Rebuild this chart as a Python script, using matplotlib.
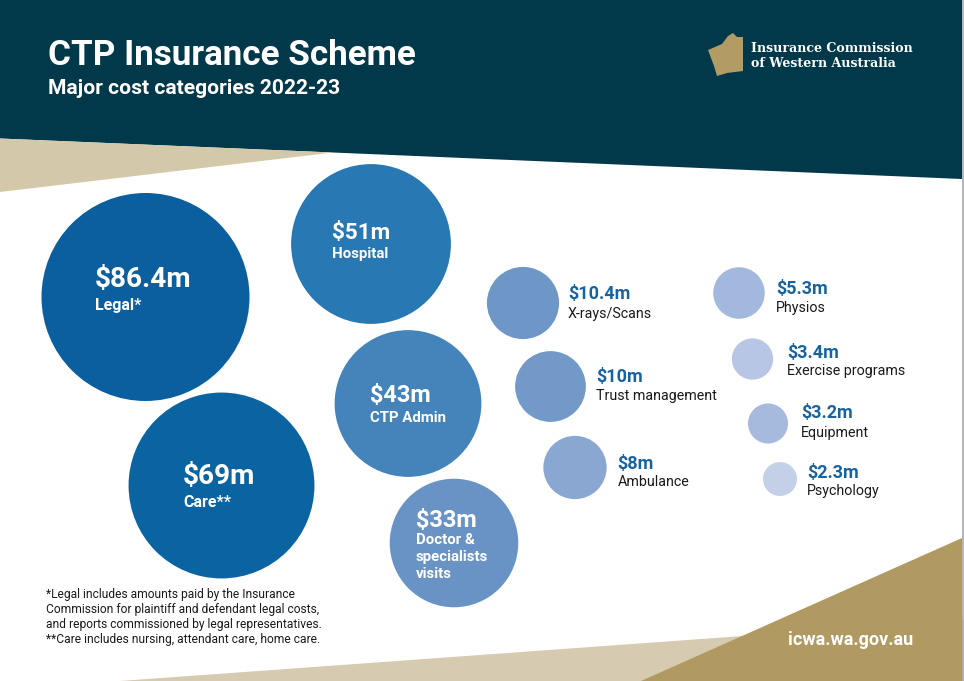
import matplotlib
matplotlib.use("Agg")
import matplotlib.pyplot as plt
from matplotlib.patches import Circle, Polygon
import numpy as np

# ---------------- data ----------------
categories = ["Legal*", "Care**", "Hospital", "CTP Admin", "Doctor &\nspecialists\nvisits",
              "X-rays/Scans", "Trust management", "Ambulance",
              "Physios", "Exercise programs", "Equipment", "Psychology"]
values = [86.4, 69, 51, 43, 33, 10.4, 10, 8, 5.3, 3.4, 3.2, 2.3]
value_labels = ["$86.4m", "$69m", "$51m", "$43m", "$33m", "$10.4m", "$10m", "$8m",
                "$5.3m", "$3.4m", "$3.2m", "$2.3m"]
title = "CTP Insurance Scheme"
subtitle = "Major cost categories 2022-23"
footnote = ["*Legal includes amounts paid by the Insurance",
            "Commission for plaintiff and defendant legal costs,",
            "and reports commissioned by legal representatives.",
            "**Care includes nursing, attendant care, home care."]
logo_lines = ["Insurance Commission", "of Western Australia"]
website = "icwa.wa.gov.au"

# ---------------- layout / style ----------------
W, H = 964, 681
R_MAX = 104.0  # radius of the largest bubble in px (area-proportional scaling)
centers = [(145.5, 297), (221.5, 485.5), (371, 244), (408, 403.5), (454, 543),
           (523, 303), (550.5, 386.5), (575, 467.5),
           (739, 293), (752.5, 359), (768, 423.5), (780, 479)]
colors = ["#0b5f9e", "#0b64a2", "#2878b3", "#4584bb", "#6993c5",
          "#6e97c7", "#7299c8", "#8aa7d2",
          "#a2b8dc", "#b6c6e4", "#a6badd", "#c3d0e8"]
# inside labels: (text left x, value baseline y, value px, label px, label offset, line step)
inside = {0: (95, 287, 28, 16, 23, 17),
          1: (183, 484, 28, 16, 23, 17),
          2: (332, 239, 22.5, 15, 19, 17),
          3: (370, 402, 23.5, 15, 20, 17),
          4: (416, 527, 23.5, 15, 17, 17)}
# outside labels: (value baseline y, label baseline y, gap)
outside = {5: (299, 318, 9), 6: (382, 400, 10), 7: (469, 486, 11),
           8: (294, 312, 11), 9: (358, 375, 14), 10: (418, 437, 13), 11: (478, 495, 10)}

DARK = "#02394a"
BEIGE = "#d4c8aa"
GOLD = "#b09a62"
BLUE_TXT = "#17639f"
FONT = "Roboto"

def px(v):
    return v * 0.72  # px -> pt at dpi 100

fig = plt.figure(figsize=(W / 100, H / 100), dpi=100)
ax = fig.add_axes([0, 0, 1, 1])
ax.set_xlim(0, W)
ax.set_ylim(H, 0)
ax.set_aspect("auto")
ax.axis("off")
fig.patch.set_facecolor("white")

# header
ax.add_patch(Polygon([(0, 0), (962, 0), (962, 179), (0, 138.5)], closed=True,
                     facecolor=DARK, edgecolor="none", zorder=1))
ax.add_patch(Polygon([(0, 138.5), (333, 152.5), (0, 192)], closed=True,
                     facecolor=BEIGE, edgecolor="none", zorder=1))
# bottom shapes
ax.add_patch(Polygon([(120, 681), (964, 620), (964, 681)], closed=True,
                     facecolor="#d6cbb0", edgecolor="none", zorder=1))
ax.add_patch(Polygon([(641, 681), (962, 538), (962, 681)], closed=True,
                     facecolor=GOLD, edgecolor="none", zorder=1))
# right border line
ax.plot([962.5, 962.5], [0, 681], color="#a8a8a8", lw=1.2, zorder=2)

# titles
ax.text(48, 65, title, color="white", fontsize=px(35), fontweight="bold",
        family=FONT, va="baseline", ha="left", zorder=3)
ax.text(48, 94, subtitle, color="white", fontsize=px(21), fontweight="bold",
        family=FONT, va="baseline", ha="left", zorder=3)

# logo
ax.add_patch(Polygon([(708, 50), (722, 44), (728, 36), (733, 33), (737, 37), (743, 37),
                      (743, 71), (727, 73), (717, 76), (714, 66)], closed=True,
                     facecolor="#b39b64", edgecolor="none", zorder=3))
ax.text(751, 52, logo_lines[0], color="white", fontsize=px(12.6), fontweight="bold",
        family="DejaVu Serif", va="baseline", ha="left", zorder=3)
ax.text(751, 67, logo_lines[1], color="white", fontsize=px(12.6), fontweight="bold",
        family="DejaVu Serif", va="baseline", ha="left", zorder=3)

# bubbles
radii = [R_MAX * np.sqrt(v / max(values)) for v in values]
for i, (v, (cx, cy), c, r) in enumerate(zip(values, centers, colors, radii)):
    ax.add_patch(Circle((cx, cy), r, facecolor=c, edgecolor="none", zorder=4))
    if i in inside:
        tx, vy, vpx, lpx, loff, step = inside[i]
        ax.text(tx, vy, value_labels[i], color="white", fontsize=px(vpx), fontweight="bold",
                family=FONT, va="baseline", ha="left", zorder=5)
        for k, line in enumerate(categories[i].split("\n")):
            ax.text(tx, vy + loff + k * step, line, color="white", fontsize=px(lpx),
                    fontweight="bold", family=FONT, va="baseline", ha="left", zorder=5)
    else:
        vy, ly, gap = outside[i]
        tx = cx + r + gap
        ax.text(tx, vy, value_labels[i], color=BLUE_TXT, fontsize=px(18), fontweight="bold",
                family=FONT, va="baseline", ha="left", zorder=5)
        ax.text(tx, ly, categories[i], color="#1a1a1a", fontsize=px(14.2),
                family=FONT, va="baseline", ha="left", zorder=5)

# footnote
for k, line in enumerate(footnote):
    ax.text(46, 598 + k * 15, line, color="#1a1a1a", fontsize=px(12), family=FONT,
            va="baseline", ha="left", zorder=5)

# website
ax.text(788, 645, website, color="white", fontsize=px(18), fontweight="bold",
        family=FONT, va="baseline", ha="left", zorder=5)

fig.savefig("out.png", dpi=100, facecolor="white")
